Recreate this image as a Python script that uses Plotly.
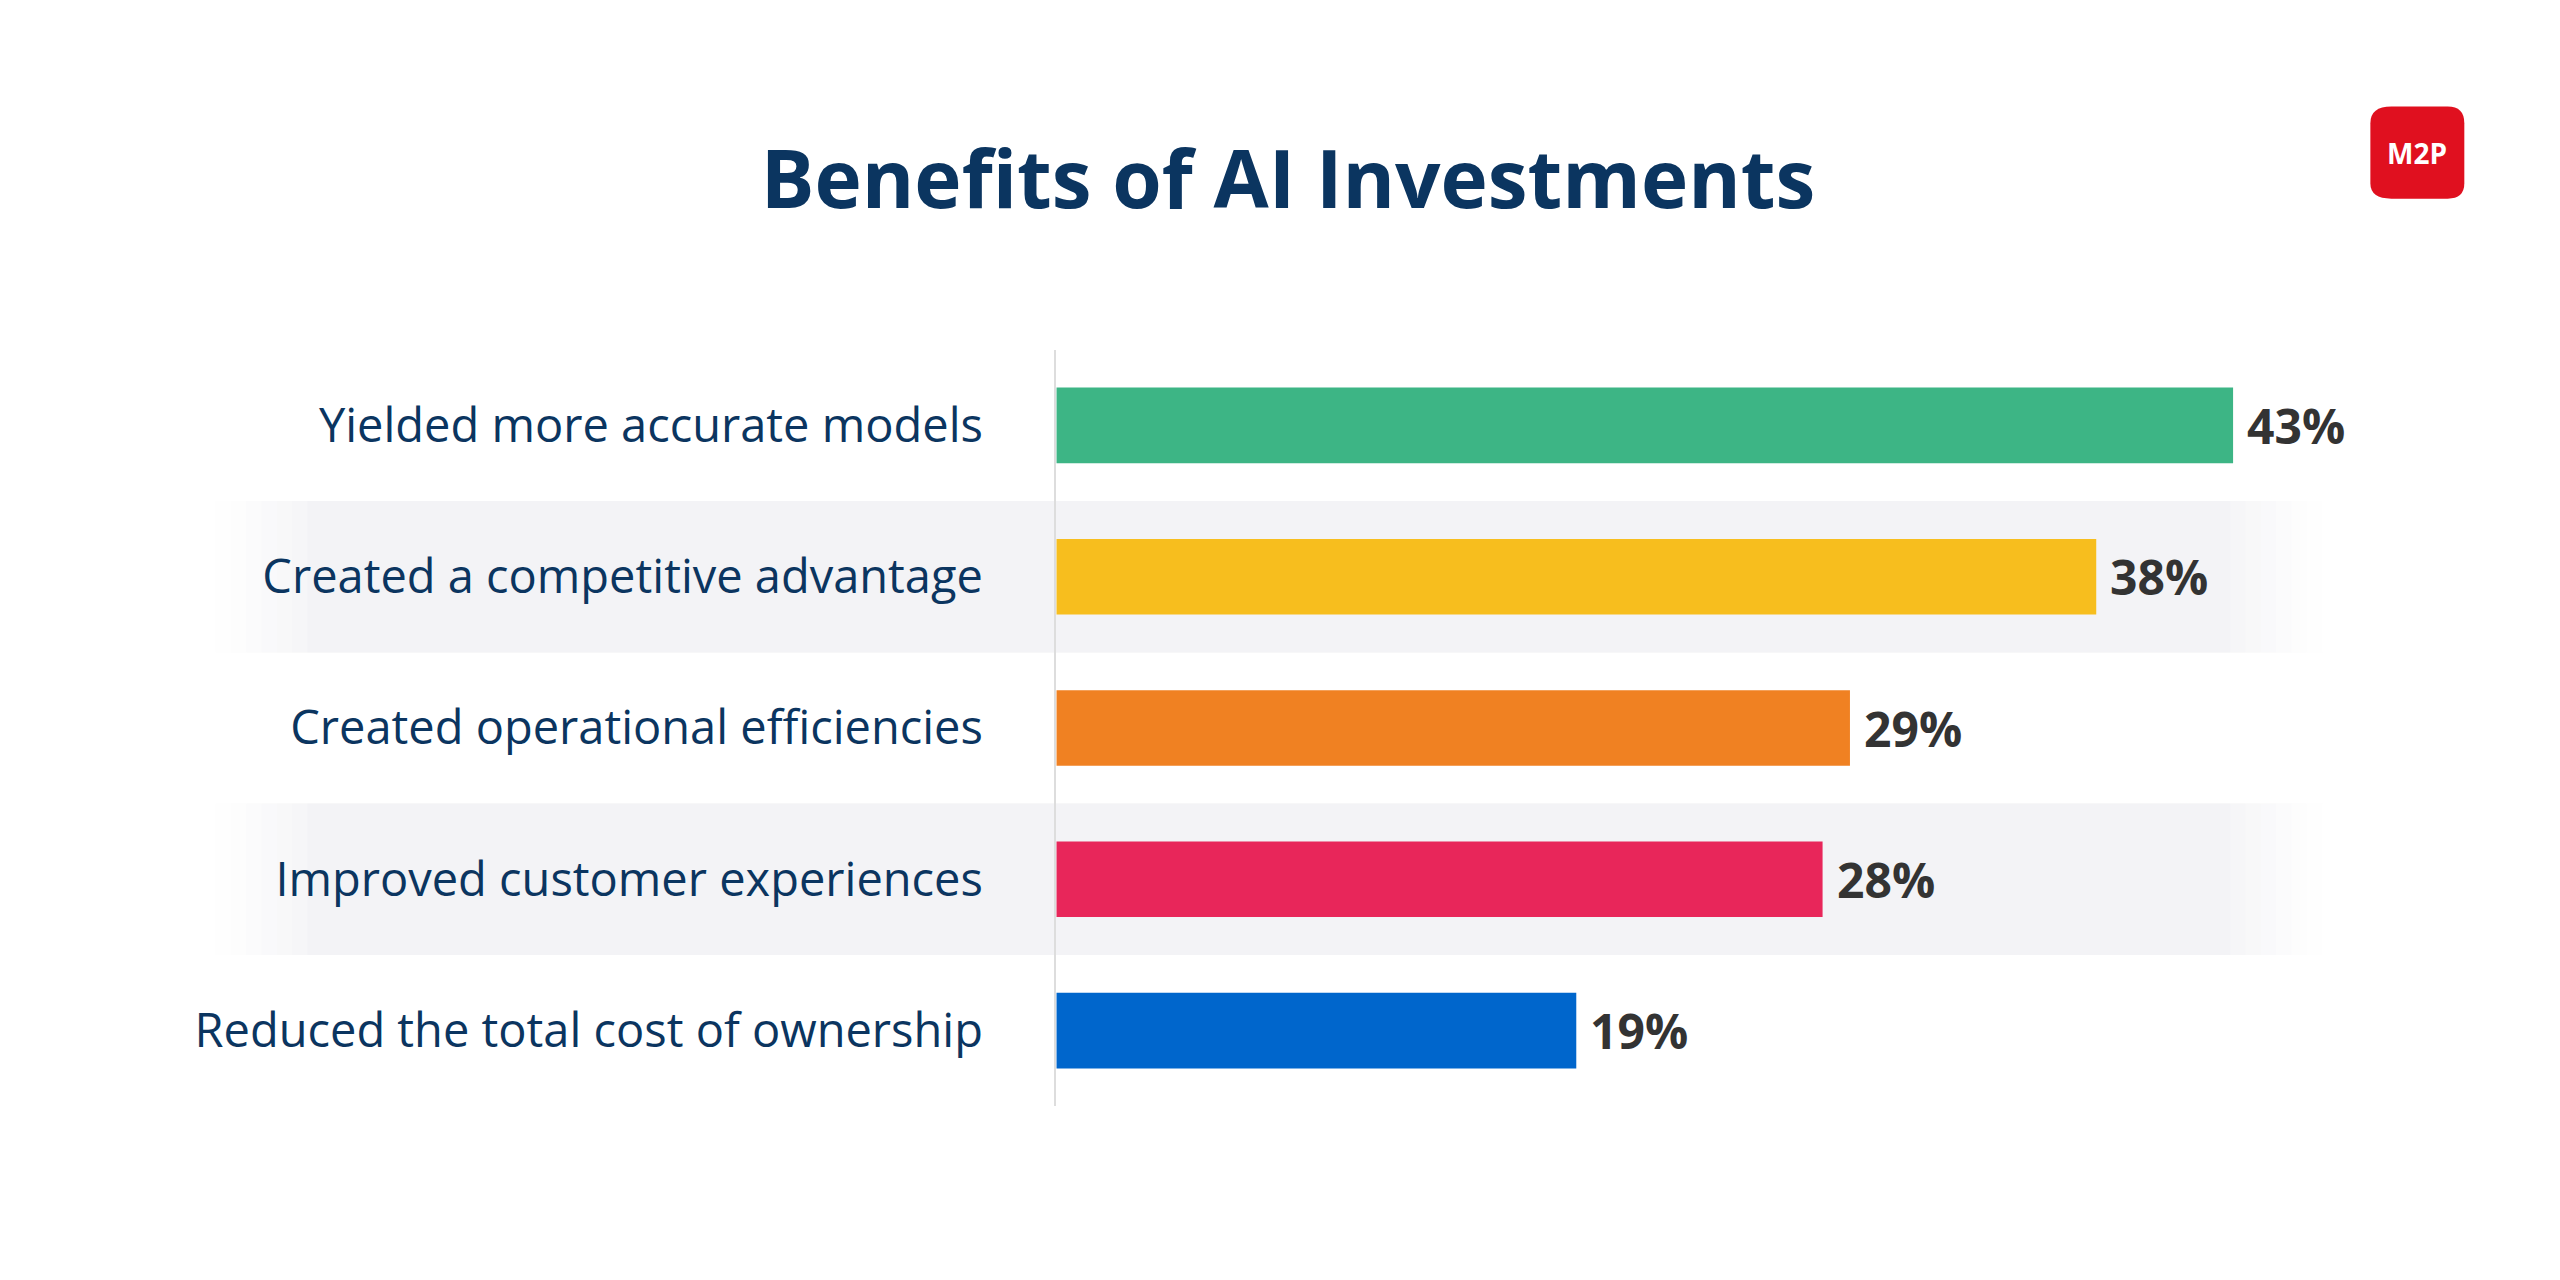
import plotly.graph_objects as go

categories = [
    "Yielded more accurate models",
    "Created a competitive advantage",
    "Created operational efficiencies",
    "Improved customer experiences",
    "Reduced the total cost of ownership",
]
values = [43, 38, 29, 28, 19]
colors = ["#3db585", "#f7be1e", "#f08122", "#e8265a", "#0066cc"]

fig = go.Figure()
fig.add_trace(go.Bar(
    y=categories, x=values, orientation="h",
    marker=dict(color=colors, line=dict(width=0)),
    width=0.5, hoverinfo="skip",
))

# value labels
for c, v in zip(categories, values):
    fig.add_annotation(x=v, y=c, text=f"<b>{v}%</b>", showarrow=False, xanchor="left",
                       xshift=12, font=dict(size=48, color="#333333", family="Open Sans"))

# shaded bands on rows 2 and 4, faded at the edges
shapes = []
for idx in (1, 3):
    steps = 8
    for k in range(steps):
        op = (k + 1) / steps
        shapes.append(dict(type="rect", xref="paper", yref="y",
                           x0=0.075 + k * 0.006, x1=0.91 - k * 0.006,
                           y0=idx - 0.5, y1=idx + 0.5, layer="below",
                           fillcolor="#f3f3f6", opacity=op / steps * 2 if k < steps - 1 else 1,
                           line=dict(width=0)))
# logo
shapes.append(dict(type="path", xref="paper", yref="paper", layer="above",
                   path="M 0.9310 0.923 L 0.9530 0.923 Q 0.9595 0.923 0.9595 0.910 L 0.9595 0.863 "
                        "Q 0.9595 0.851 0.9530 0.851 L 0.9310 0.851 Q 0.9228 0.851 0.9228 0.863 "
                        "L 0.9228 0.910 Q 0.9228 0.923 0.9310 0.923 Z",
                   fillcolor="#e0101f", line=dict(width=0)))
fig.add_annotation(xref="paper", yref="paper", x=0.9412, y=0.887, text="<b>M2P</b>",
                   xanchor="center", yanchor="middle",
                   showarrow=False, font=dict(size=28, color="white", family="Open Sans"))

fig.update_layout(
    width=2560, height=1280,
    margin=dict(l=0, r=0, t=0, b=0),
    plot_bgcolor="white", paper_bgcolor="white",
    shapes=shapes,
    showlegend=False,
    title=dict(text="<b>Benefits of AI Investments</b>", x=0.5, xanchor="center",
               y=0.866, yanchor="middle",
               font=dict(size=80, color="#0b3560", family="Open Sans")),
    xaxis=dict(domain=[0.4095, 0.944], range=[0, 50], visible=False),
    yaxis=dict(domain=[0.142, 0.733], autorange="reversed", showline=True,
               linecolor="#dddddd", linewidth=2, showgrid=False, ticks="",
               ticklabelstandoff=62,
               tickfont=dict(size=47, color="#0b3560", family="Open Sans")),
)

fig.write_html("out.html")
